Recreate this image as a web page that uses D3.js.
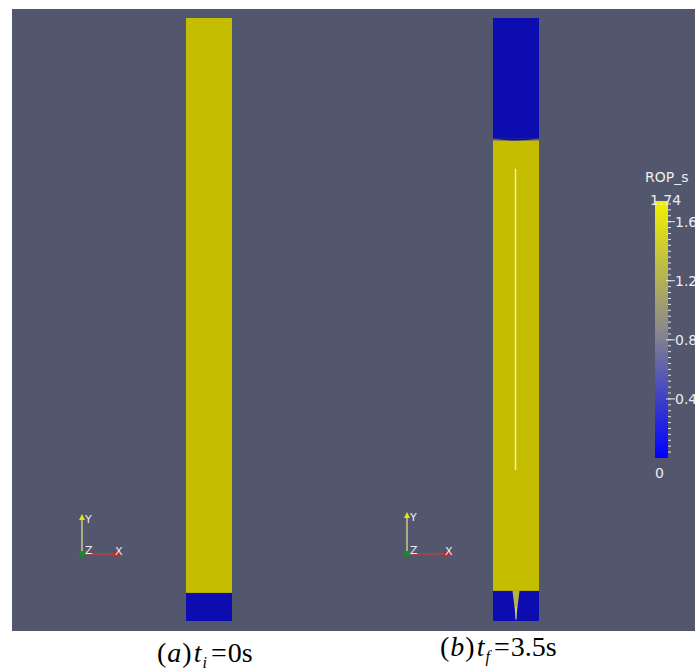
<!DOCTYPE html>
<html>
<head>
<meta charset="utf-8">
<script src="https://cdn.jsdelivr.net/npm/d3@7"></script>
<style>
  body { margin: 0; background: #fff; }
  text { font-family: "DejaVu Sans", sans-serif; }
</style>
</head>
<body>
<svg id="chart"></svg>
<script>
const width = 695;
const height = 668;

// colour range of ROP_s
const rangeMin = 0;
const rangeMax = 1.74;
const majorTicks = [0.4, 0.8, 1.2, 1.6];
const tickLabels = ["0.4", "0.8", "1.2", "1.6"];

// column layout, heights in cm from the bottom (column is 60 cm high)
const panels = ["a", "b"];
const captionVar = ["i", "f"];
const captionTime = ["0s", "3.5s"];
// regions per panel: [bottom, top, value]
const regionsA = [[0, 2.8, 0], [2.8, 60, 1.74]];
const regionsB = [[0, 3.0, 0], [3.0, 47.8, 1.74], [48.0, 60, 0]];
// thin light streak in panel b (cm)
const streakB = [15.0, 45.0];
// yellow notch in the bottom blue layer of panel b: [half width, bottom]
const notchB = [0.35, 0.15];

var svg = d3.select("#chart")
    .attr("width", width)
    .attr("height", height);

// background of the render window
svg.append("rect")
    .attr("x", 12).attr("y", 9)
    .attr("width", width - 12).attr("height", 622)
    .attr("fill", "#52576d");

var y = d3.scaleLinear().domain([0, 60]).range([621, 18]);
var panelX = d3.scalePoint().domain(panels).range([209, 516]);
var x = d3.scaleLinear().domain([-2.3, 2.3]).range([-23, 23]);

// colour map of the legend and the shaded colour of the field
var colorMap = d3.scaleLinear()
    .domain([rangeMin, (rangeMin + rangeMax) / 2, rangeMax])
    .range(["#0000ff", "#8a8a8a", "#f2f000"]);
var fieldColor = d3.scaleLinear()
    .domain([rangeMin, rangeMax])
    .range(["#0c0cb0", "#c4bd00"]);

var regions = [regionsA, regionsB];

panels.forEach(function (p, i) {
  var g = svg.append("g").attr("transform", "translate(" + panelX(p) + ",0)");

  // gap line between the top blue layer and the yellow column
  if (p == "b") {
    g.append("rect")
      .attr("x", x(-2.3)).attr("width", x(2.3) - x(-2.3))
      .attr("y", y(48.2)).attr("height", y(47.6) - y(48.2))
      .attr("fill", "#6b6a4c");
  }

  g.selectAll("rect.region")
    .data(regions[i])
    .enter()
    .append("rect")
    .attr("class", "region")
    .attr("x", x(-2.3))
    .attr("width", x(2.3) - x(-2.3))
    .attr("y", d => y(d[1]))
    .attr("height", d => y(d[0]) - y(d[1]))
    .attr("fill", d => fieldColor(d[2]));

  if (p == "b") {
    // curved interface under the top blue layer
    g.append("path")
      .attr("d", "M" + x(-2.3) + "," + y(48.0) + " Q" + x(0) + "," + (y(48.0) + 4) + " " + x(2.3) + "," + y(48.0) + "Z")
      .attr("fill", fieldColor(0));

    // notch in the bottom layer
    g.append("path")
      .attr("d", d3.line()([
        [x(-notchB[0]), y(3.0)], [x(notchB[0]), y(3.0)], [x(0), y(notchB[1])]
      ]))
      .attr("fill", "#b8b440");
    g.append("line")
      .attr("x1", x(0)).attr("x2", x(0))
      .attr("y1", y(1.5)).attr("y2", y(notchB[1]))
      .attr("stroke", "#d8d8c0").attr("stroke-width", 1);

    // thin streak along the axis
    g.append("line")
      .attr("x1", x(-0.05)).attr("x2", x(-0.05))
      .attr("y1", y(streakB[0])).attr("y2", y(streakB[1]))
      .attr("stroke", "#f0f0a8").attr("stroke-width", 1.5);
  }
});

// orientation axes
var triads = [
  {ox: 82, oy: 554, len: 40, xlen: 40},
  {ox: 407, oy: 554, len: 42, xlen: 45}
];
triads.forEach(function (t) {
  var g = svg.append("g").attr("transform", "translate(" + t.ox + "," + t.oy + ")");
  g.append("line").attr("x1", 0).attr("y1", 0).attr("x2", 0).attr("y2", -t.len + 5)
    .attr("stroke", "#c9c98a").attr("stroke-width", 1.5);
  g.append("path").attr("d", "M-3," + (-t.len + 6) + " L0," + (-t.len) + " L3," + (-t.len + 6) + "Z")
    .attr("fill", "#e6e600");
  g.append("line").attr("x1", 0).attr("y1", 0).attr("x2", t.xlen - 6).attr("y2", 0)
    .attr("stroke", "#b83c48").attr("stroke-width", 1.5);
  g.append("path").attr("d", "M" + (t.xlen - 8) + ",-3 L" + t.xlen + ",0 L" + (t.xlen - 8) + ",3Z")
    .attr("fill", "#d02020");
  g.append("circle").attr("r", 3).attr("fill", "#1a8a2a");
  g.append("text").attr("x", 3).attr("y", -t.len + 9).text("Y")
    .attr("font-size", 11).attr("fill", "#eeeeee");
  g.append("text").attr("x", 3).attr("y", 0).text("Z")
    .attr("font-size", 11).attr("fill", "#eeeeee");
  g.append("text").attr("x", t.xlen - 7).attr("y", 1).text("X")
    .attr("font-size", 11).attr("fill", "#eeeeee");
});

// colour legend
var cy = d3.scaleLinear().domain([rangeMin, rangeMax]).range([458, 201]);
var defs = svg.append("defs");
var grad = defs.append("linearGradient")
    .attr("id", "cbar").attr("x1", 0).attr("x2", 0).attr("y1", 1).attr("y2", 0);
grad.selectAll("stop")
  .data(d3.range(0, 1.0001, 0.1))
  .enter().append("stop")
  .attr("offset", d => d)
  .attr("stop-color", d => colorMap(rangeMin + d * (rangeMax - rangeMin)));

svg.append("rect")
    .attr("x", 655).attr("y", cy(rangeMax))
    .attr("width", 13).attr("height", cy(rangeMin) - cy(rangeMax))
    .attr("fill", "url(#cbar)");

var minor = d3.range(0.04, rangeMax, 0.04);
svg.selectAll("line.minor")
  .data(minor)
  .enter().append("line")
  .attr("class", "minor")
  .attr("x1", 668).attr("x2", 671)
  .attr("y1", d => cy(d)).attr("y2", d => cy(d))
  .attr("stroke", "#e8e8e8").attr("stroke-width", 1);

svg.selectAll("line.major")
  .data(majorTicks)
  .enter().append("line")
  .attr("class", "major")
  .attr("x1", 666).attr("x2", 675)
  .attr("y1", d => cy(d)).attr("y2", d => cy(d))
  .attr("stroke", "#e8e8e8").attr("stroke-width", 1);

svg.selectAll("text.tick")
  .data(majorTicks)
  .enter().append("text")
  .attr("class", "tick")
  .attr("x", 675)
  .attr("y", d => cy(d) + 5)
  .attr("font-size", 14)
  .attr("fill", "#eeeeee")
  .text((d, i) => tickLabels[i]);

svg.append("text").attr("x", 645).attr("y", 182)
    .attr("font-size", 14).attr("fill", "#eeeeee").text("ROP_s");
svg.append("text").attr("x", 650).attr("y", 205)
    .attr("font-size", 14).attr("fill", "#eeeeee").text(rangeMax.toFixed(2));
svg.append("text").attr("x", 655).attr("y", 478)
    .attr("font-size", 14).attr("fill", "#eeeeee").text(String(rangeMin));

// captions
var capY = [662, 656];
var capX = [157, 440];
panels.forEach(function (p, i) {
  var t = svg.append("text")
    .attr("x", capX[i]).attr("y", capY[i])
    .style("font-family", "'Liberation Serif', 'Times New Roman', serif")
    .attr("font-size", 28).attr("fill", "#000");
  t.append("tspan").text("(");
  t.append("tspan").attr("font-style", "italic").attr("dx", 1).text(p);
  t.append("tspan").attr("dx", 1).text(")");
  t.append("tspan").attr("font-style", "italic").attr("dx", 2).text("t");
  t.append("tspan").attr("font-style", "italic").attr("font-size", 16).attr("dy", 6).attr("dx", 1).text(captionVar[i]);
  t.append("tspan").attr("dy", -6).attr("dx", 4).text("=");
  t.append("tspan").attr("dx", 1).text(captionTime[i]);
});
</script>
</body>
</html>
